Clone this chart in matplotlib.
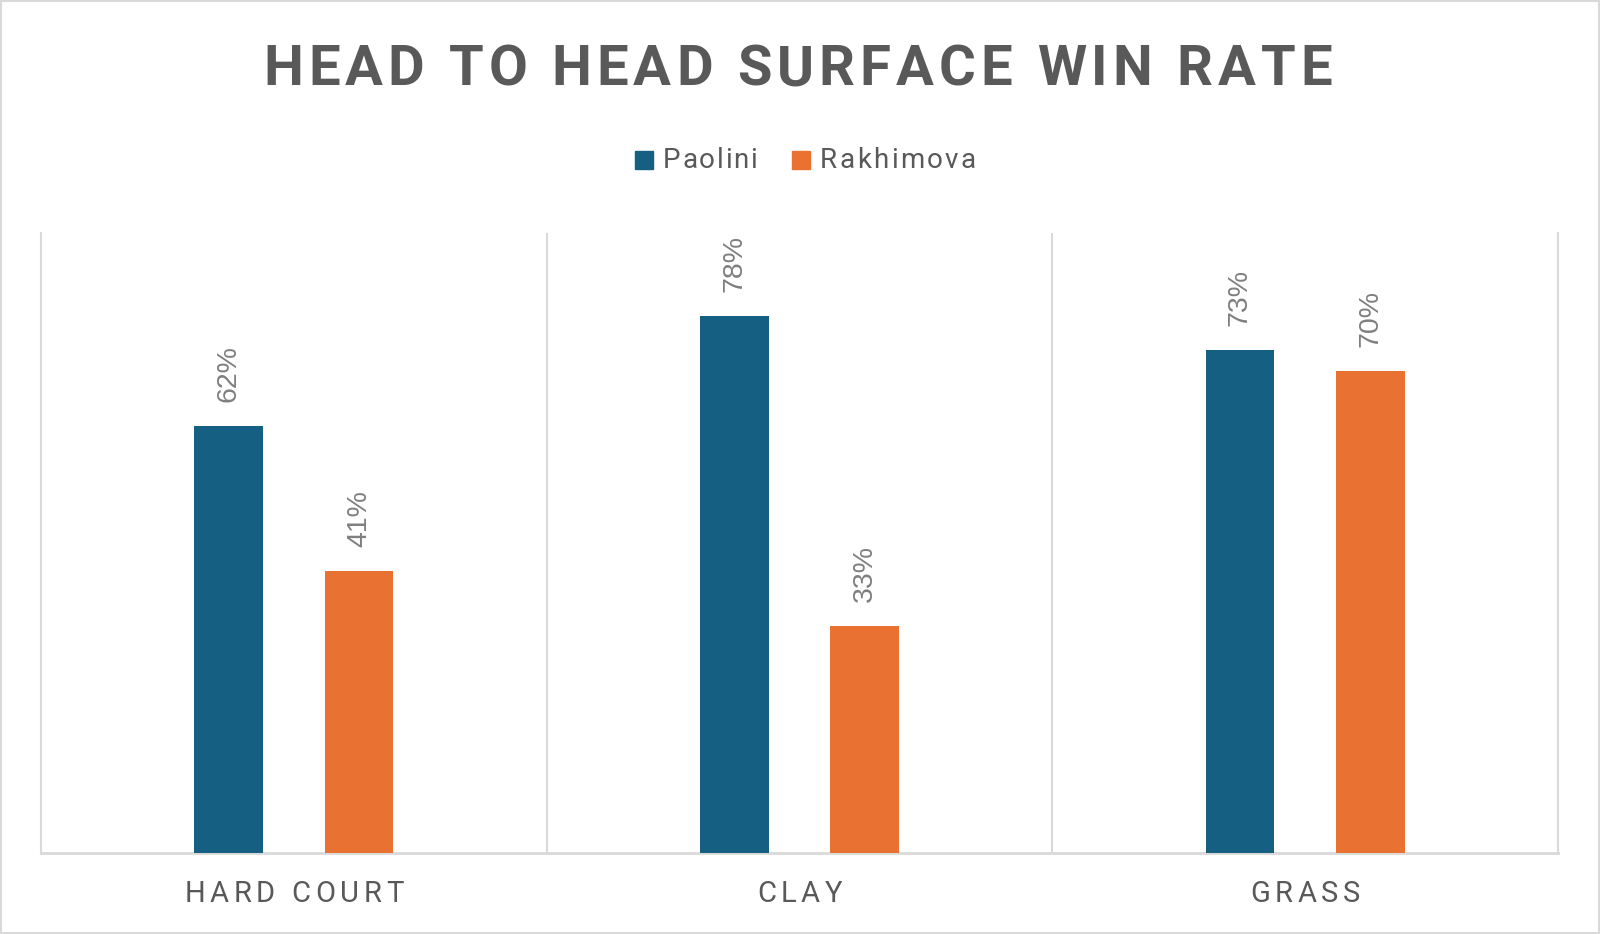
import matplotlib
matplotlib.use("Agg")
import matplotlib.pyplot as plt
from matplotlib.font_manager import FontProperties
from matplotlib.transforms import IdentityTransform
from matplotlib.patches import Rectangle
import numpy as np

title = "HEAD TO HEAD SURFACE WIN RATE"
categories = ["HARD COURT", "CLAY", "GRASS"]
series_names = ["Paolini", "Rakhimova"]
paolini = [0.62, 0.78, 0.73]
rakhimova = [0.41, 0.33, 0.70]
colors = ["#156082", "#E97132"]
text_color = "#595959"
label_color = "#7f7f7f"
grid_color = "#d9d9d9"

W, H = 1600, 934
fig = plt.figure(figsize=(W / 100, H / 100), dpi=100)
ax = fig.add_axes([41 / W, 1 - 853 / H, (1558 - 41) / W, (853 - 233) / H])

x = np.arange(len(categories))
off, bw = 0.129, 0.136
bars = []
for k, (vals, c) in enumerate(zip([paolini, rakhimova], colors)):
    bars.append(ax.bar(x + (k * 2 - 1) * off, vals, bw, color=c, zorder=3))
ax.set_xlim(-0.5, len(categories) - 0.5)
ax.set_ylim(0, 0.9)
ax.set_xticks([])
ax.set_yticks([])
ax.spines["top"].set_visible(False)
for s in ("left", "right"):
    ax.spines[s].set_color(grid_color)
    ax.spines[s].set_linewidth(1.5)
ax.spines["bottom"].set_color(grid_color)
ax.spines["bottom"].set_linewidth(2)
for b in x[:-1] + 0.5:
    ax.axvline(b, color=grid_color, lw=1.5, zorder=1)

for bc, vals in zip(bars, [paolini, rakhimova]):
    for rect, v in zip(bc, vals):
        ax.annotate(f"{v:.0%}", (rect.get_x() + rect.get_width() / 2, v),
                    xytext=(0, 17), textcoords="offset points", rotation=90,
                    ha="center", va="bottom", fontsize=20.5, color=label_color,
                    family="Liberation Sans")

renderer = fig.canvas.get_renderer()


def tw(s, prop):
    w, h, d = renderer.get_text_width_height_descent(s, prop, ismath=False)
    return w


def spaced(s, xpos, ybase_top, prop, color, spacing=None, target=None, align="center"):
    n = len(s)
    nat = tw(s, prop)
    if spacing is None:
        spacing = (target - nat) / (n - 1)
    total = nat + spacing * (n - 1)
    x0 = xpos - total / 2 if align == "center" else xpos
    ref = tw("H", prop)
    for i, ch in enumerate(s):
        if ch == " ":
            continue
        xi = x0 + ((tw(s[:i] + "H", prop) - ref) if i > 0 else 0) + i * spacing
        fig.text(xi, H - ybase_top, ch, fontproperties=prop, color=color,
                 ha="left", va="baseline", transform=IdentityTransform())
    return spacing


# Title
tprop = FontProperties(family="Roboto", weight="bold", size=40.5)
spaced(title, 797.5, 85, tprop, text_color, target=1069)

# Category labels
cprop = FontProperties(family="Roboto", weight="normal", size=21)
xc = [ax.transData.transform((i, 0))[0] for i in x]
sp = spaced(categories[0], xc[0], 902, cprop, text_color, target=219)
for i in range(1, len(categories)):
    spaced(categories[i], xc[i], 902, cprop, text_color, spacing=sp)

# Legend
lprop = FontProperties(family="Roboto", weight="normal", size=20)
leg_sq = [635, 792]
leg_tx = [663, 820]
leg_w = [94, 156]
for name, c, sx, tx, w in zip(series_names, colors, leg_sq, leg_tx, leg_w):
    fig.add_artist(Rectangle((sx, H - 169), 18, 18, color=c, transform=IdentityTransform()))
    spaced(name, tx, 168, lprop, text_color, target=w, align="left")

# Figure border
fig.add_artist(Rectangle((1, 1), W - 2, H - 2, fill=False, edgecolor=grid_color,
                         lw=1.5, transform=IdentityTransform()))

fig.savefig("out.png", dpi=100)
